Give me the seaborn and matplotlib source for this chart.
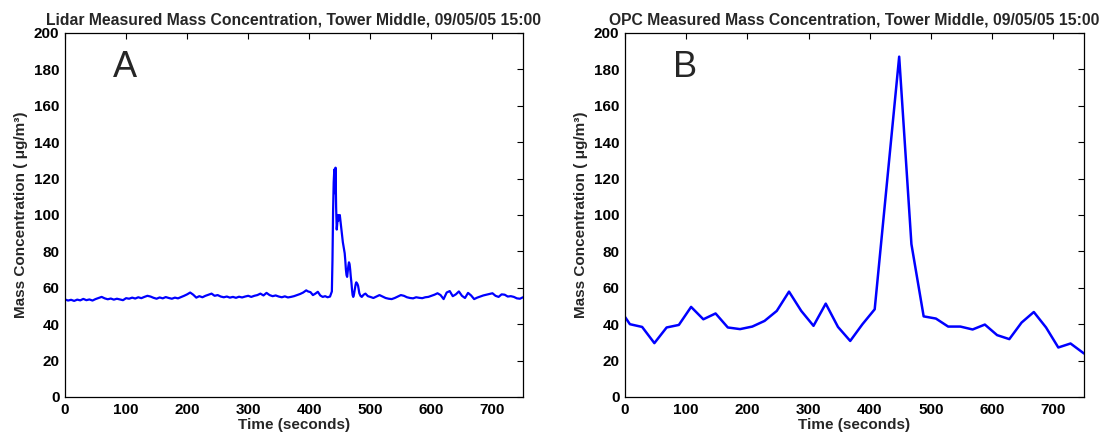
import matplotlib
matplotlib.use("Agg")
import matplotlib.pyplot as plt
import seaborn as sns
import pandas as pd

# ---- Panel A: Lidar ----
lidar_time = [0, 5, 10, 15, 20, 25, 30, 35, 40, 45,
              50, 55, 60, 65, 70, 75, 80, 85, 90, 95,
              100, 105, 110, 115, 120, 125, 130, 135, 140, 145,
              150, 155, 160, 165, 170, 175, 180, 185, 190, 195,
              200, 205, 210, 215, 220, 225, 230, 235, 240, 245,
              250, 255, 260, 265, 270, 275, 280, 285, 290, 295,
              300, 305, 310, 315, 320, 325, 330, 335, 340, 345,
              350, 355, 360, 365, 370, 375, 380, 385, 390, 395,
              398, 402, 406, 410, 414, 418, 422, 426, 430, 434,
              437, 438, 439, 440, 441, 442, 443, 444, 445, 446,
              447, 448, 449, 450, 451, 452, 453, 454, 455, 456,
              457, 458, 459, 460, 461, 462, 463, 464, 465, 466,
              467, 468, 469, 470, 471, 472, 473, 474, 475, 476,
              477, 478, 479, 480, 481, 482, 484, 486, 489, 492,
              496, 500, 505, 510,
              515, 520, 525, 530, 535, 540, 545, 550, 555, 560,
              565, 570, 575, 580, 585, 590, 595, 600, 605, 610,
              615, 620, 625, 630, 635, 640, 645, 650, 655, 660,
              665, 670, 675, 680, 685, 690, 695, 700, 705, 710,
              715, 720, 725, 730, 735, 740, 745, 750]
lidar_conc = [53.6, 53.0, 53.4, 52.8, 53.5, 53.1, 53.9, 53.2, 53.6, 53.0,
              53.8, 54.4, 55.0, 54.2, 53.7, 54.1, 53.5, 54.0, 53.6, 53.2,
              54.3, 54.0, 54.6, 54.1, 54.8, 54.3, 55.0, 55.6, 55.2, 54.5,
              54.0, 54.7, 54.2, 54.9, 54.4, 54.0, 54.6, 54.2, 54.9, 55.6,
              56.4, 57.4, 56.2, 54.6, 55.4, 54.8, 55.6, 56.2, 56.8, 55.6,
              56.0, 55.2, 54.8, 55.2, 54.6, 55.0, 54.5, 55.1, 54.7, 55.2,
              55.6, 55.0, 55.6, 56.0, 56.8, 55.8, 57.2, 56.0, 55.4, 55.8,
              55.2, 54.8, 55.3, 54.7, 55.0, 55.4, 56.0, 56.6, 57.4, 58.6,
              58.0, 57.6, 56.0, 56.8, 57.8, 55.8, 55.0, 55.4, 54.8, 55.2,
              58.0, 75.0, 102.0, 118.0, 125.0, 112.0, 126.0, 104.0, 92.0, 96.0,
              100.0, 97.0, 99.0, 100.0, 97.0, 94.0, 91.0, 88.0, 85.0, 83.0,
              81.0, 79.0, 75.0, 70.0, 67.0, 66.0, 69.0, 72.0, 74.0, 73.0,
              70.0, 66.0, 63.0, 59.0, 56.0, 55.0, 56.0, 58.0, 60.0, 62.0,
              63.0, 62.5, 62.0, 61.0, 59.0, 57.0, 55.5, 55.0, 56.2, 56.8,
              55.4, 55.0, 54.4, 55.2,
              56.0, 55.2, 54.4, 54.0, 53.8, 54.4, 55.2, 56.0, 55.6, 54.8,
              54.4, 54.2, 54.8, 54.5, 54.3, 54.8, 55.0, 55.6, 56.2, 57.0,
              56.0, 53.8, 57.4, 58.2, 55.4, 56.4, 58.0, 55.6, 54.4, 57.2,
              55.8, 53.8, 54.6, 55.2, 55.8, 56.2, 56.6, 57.0, 55.6, 55.0,
              56.4, 56.2, 55.2, 55.4, 55.0, 54.2, 54.0, 54.8]

# ---- Panel B: OPC ----
opc_time = [0, 8, 28, 48, 68, 88, 108, 128, 148, 168,
            188, 208, 228, 248, 268, 288, 308, 328, 348, 368,
            388, 408, 448, 468, 488, 508, 528, 548, 568, 588,
            608, 628, 648, 668, 688, 708, 728, 750]
opc_conc = [44.0, 40.0, 38.5, 29.6, 38.2, 39.6, 49.5, 42.7, 45.9, 38.2,
            37.3, 38.7, 41.8, 47.3, 57.9, 47.3, 39.1, 51.3, 38.5, 30.8,
            40.0, 48.2, 187.0, 84.0, 44.3, 43.1, 38.7, 38.7, 37.1, 39.8,
            34.0, 31.8, 40.9, 46.7, 38.2, 27.2, 29.4, 23.9]

titles = ["Lidar Measured Mass Concentration, Tower Middle, 09/05/05 15:00",
          "OPC Measured Mass Concentration, Tower Middle, 09/05/05 15:00"]
panel_letters = ["A", "B"]
x_ticks = [0, 100, 200, 300, 400, 500, 600, 700]
y_ticks = [0, 20, 40, 60, 80, 100, 120, 140, 160, 180, 200]
x_label = "Time (seconds)"
y_label = "Mass Concentration ( μg/m³)"

sns.set_style("white")
plt.rcParams['font.family'] = ['Liberation Sans', 'DejaVu Sans']
plt.rcParams['font.weight'] = 'bold'

fig = plt.figure(figsize=(11.02, 4.37), dpi=100)
axA = fig.add_axes([65 / 1102, 1 - 397 / 437, 458 / 1102, 364 / 437])
axB = fig.add_axes([625 / 1102, 1 - 397 / 437, 459 / 1102, 364 / 437])

dfA = pd.DataFrame({"t": lidar_time, "c": lidar_conc})
dfB = pd.DataFrame({"t": opc_time, "c": opc_conc})

sns.lineplot(data=dfA, x="t", y="c", ax=axA, color="#0000ff", linewidth=1.6, estimator=None)
sns.lineplot(data=dfB, x="t", y="c", ax=axB, color="#0000ff", linewidth=1.8, estimator=None)

for ax, title, letter in zip([axA, axB], titles, panel_letters):
    ax.set_xlim(0, 750)
    ax.set_ylim(0, 200)
    ax.set_xticks(x_ticks)
    ax.set_yticks(y_ticks)
    ax.set_xticklabels([str(v) for v in x_ticks], fontsize=11, fontweight='bold')
    ax.set_yticklabels([str(v) for v in y_ticks], fontsize=11, fontweight='bold')
    ax.tick_params(axis='both', direction='in', top=True, right=True, length=4,
                   width=0.8, colors='black')
    ax.tick_params(axis='x', pad=4)
    ax.tick_params(axis='y', pad=4)
    for s in ax.spines.values():
        s.set_color('black')
        s.set_linewidth(0.9)
    ax.set_xlabel(x_label, fontsize=11, fontweight='bold', labelpad=1)
    ax.set_ylabel(y_label, fontsize=11, fontweight='bold', labelpad=4)
    ax.set_title(title, fontsize=11.3, fontweight='bold', pad=6)
    ax.text(0.13, 0.905, letter, transform=ax.transAxes, fontsize=26,
            fontweight='normal', ha='center', va='center')

fig.savefig("out.png", dpi=100)
